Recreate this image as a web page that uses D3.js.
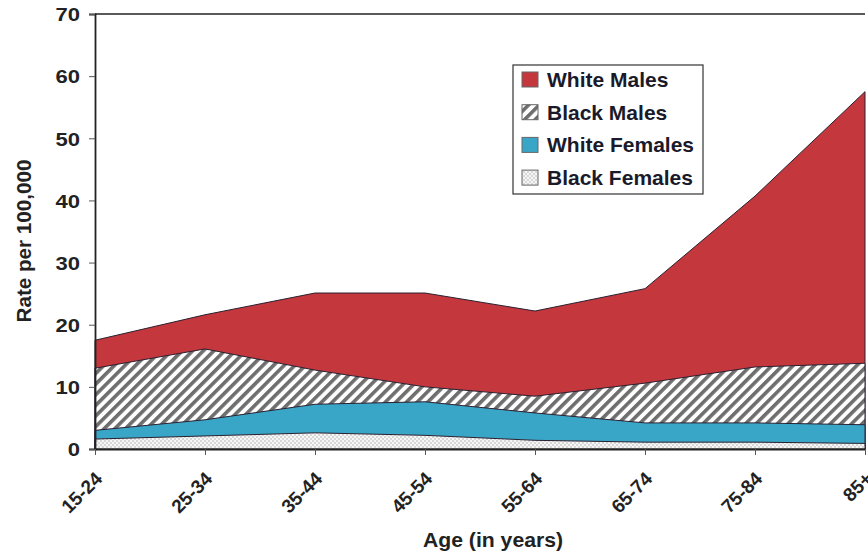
<!DOCTYPE html>
<html><head><meta charset="utf-8">
<script src="https://cdn.jsdelivr.net/npm/d3@7"></script>
<style>body{margin:0;background:#fff}svg{display:block}</style>
</head><body>
<script>
const categories = ["15-24","25-34","35-44","45-54","55-64","65-74","75-84","85+"];
const whiteMales   = [17.5, 21.6, 25.1, 25.1, 22.2, 25.8, 40.7, 57.5];
const blackMales   = [13.0, 16.1, 12.7, 10.0, 8.5, 10.6, 13.2, 13.8];
const whiteFemales = [3.0, 4.7, 7.2, 7.6, 5.8, 4.2, 4.2, 3.9];
const blackFemales = [1.6, 2.1, 2.6, 2.2, 1.4, 1.1, 1.1, 0.9];
const yTicks = [0,10,20,30,40,50,60,70];
const seriesNames = ["White Males","Black Males","White Females","Black Females"];

const W = 868, H = 554;
const m = {left:95, right:3, top:14, bottom:105};
const svg = d3.select("body").append("svg").attr("width",W).attr("height",H);
const defs = svg.append("defs");
const hatch = defs.append("pattern").attr("id","hatch").attr("patternUnits","userSpaceOnUse")
  .attr("width",7.5).attr("height",7.5).attr("patternTransform","rotate(45)");
hatch.append("rect").attr("width",7.5).attr("height",7.5).attr("fill","#fff");
hatch.append("rect").attr("x",0).attr("width",3.6).attr("height",7.5).attr("fill","#6e6e6e");
const dots = defs.append("pattern").attr("id","dots").attr("patternUnits","userSpaceOnUse")
  .attr("width",4).attr("height",4);
dots.append("rect").attr("width",4).attr("height",4).attr("fill","#f6f6f6");
dots.append("circle").attr("cx",1).attr("cy",1).attr("r",0.8).attr("fill","#b0b0b0");
dots.append("circle").attr("cx",3).attr("cy",3).attr("r",0.8).attr("fill","#b0b0b0");

const x = d3.scalePoint().domain(categories).range([m.left, W-m.right]);
const y = d3.scaleLinear().domain([0,70]).range([H-m.bottom, m.top]);

const fills = ["#c4373d","url(#hatch)","#3aa6c7","url(#dots)"];
const data = [whiteMales, blackMales, whiteFemales, blackFemales];
const area = d3.area().x((d,i)=>x(categories[i])).y0(y(0)).y1(d=>y(d));
data.forEach((s,k)=>{
  svg.append("path").datum(s).attr("d",area).attr("fill",fills[k])
    .attr("stroke","#2a2030").attr("stroke-width",1);
});

// frame top line
svg.append("line").attr("x1",m.left).attr("x2",W-m.right).attr("y1",y(70)).attr("y2",y(70))
  .attr("stroke","#222").attr("stroke-width",1.5);

const font = "'Liberation Sans', Arial, sans-serif";
const yAxis = svg.append("g").attr("transform",`translate(${m.left},0)`)
  .call(d3.axisLeft(y).tickValues(yTicks).tickSize(6).tickPadding(9));
yAxis.select(".domain").attr("stroke","#222").attr("stroke-width",1.8);
yAxis.selectAll(".tick line").attr("stroke","#555");
yAxis.selectAll("text").attr("font-family",font).attr("font-weight","bold").attr("font-size",19).attr("fill","#222")
  .attr("dy","0.36em")
  .each(function(){ const l=this.getComputedTextLength(); d3.select(this).attr("textLength",l*1.16).attr("lengthAdjust","spacingAndGlyphs"); });

const xAxis = svg.append("g").attr("transform",`translate(0,${y(0)})`)
  .call(d3.axisBottom(x).tickSize(6).tickSizeOuter(0));
xAxis.select(".domain").attr("stroke","#222").attr("stroke-width",1.8);
xAxis.selectAll(".tick line").attr("stroke","#555");
xAxis.selectAll("text").attr("font-family",font).attr("font-weight","bold").attr("font-size",19).attr("fill","#222")
  .attr("text-anchor","end").attr("dy",0).attr("y",0)
  .attr("transform","translate(8,31) rotate(-45)");

svg.append("text").attr("x",493).attr("y",547).attr("text-anchor","middle")
  .attr("font-family",font).attr("font-weight","bold").attr("font-size",20).attr("fill","#222")
  .attr("textLength",140).attr("lengthAdjust","spacingAndGlyphs")
  .text("Age (in years)");
svg.append("text").attr("transform","translate(31,241) rotate(-90)").attr("text-anchor","middle")
  .attr("font-family",font).attr("font-weight","bold").attr("font-size",20).attr("fill","#222")
  .attr("textLength",163).attr("lengthAdjust","spacingAndGlyphs")
  .text("Rate per 100,000");

// legend
const lg = svg.append("g").attr("transform","translate(513,65)");
lg.append("rect").attr("width",190).attr("height",129).attr("fill","#fff").attr("stroke","#333").attr("stroke-width",1.2);
seriesNames.forEach((n,i)=>{
  const base = 22 + i*32.7;
  lg.append("rect").attr("x",9).attr("y",base-15).attr("width",16).attr("height",15)
    .attr("fill",fills[i]).attr("stroke","#666").attr("stroke-width",1);
  lg.append("text").attr("x",34).attr("y",base).attr("font-family",font).attr("font-weight","bold")
    .attr("font-size",21).attr("fill","#1a1a2a").text(n);
});
</script>
</body></html>
